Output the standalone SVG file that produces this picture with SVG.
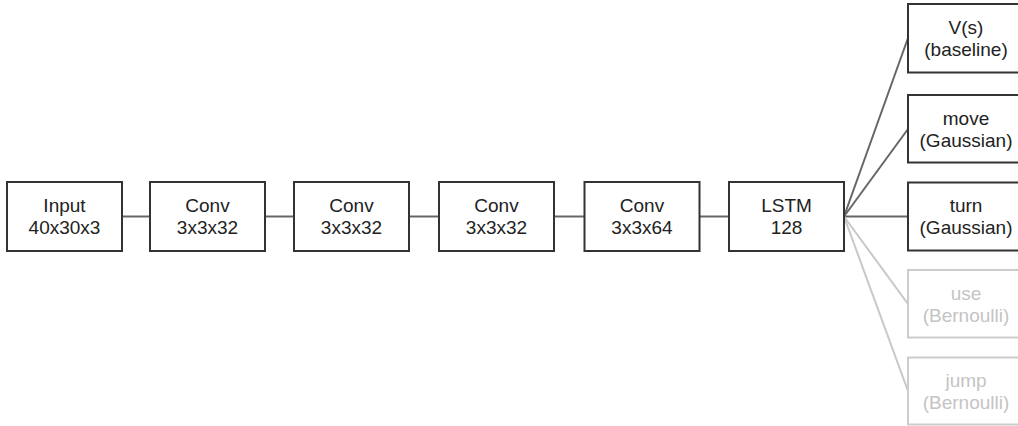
<svg xmlns="http://www.w3.org/2000/svg" width="1018" height="426" viewBox="0 0 1018 426">
<style>
.box{fill:#fff;stroke:#333;stroke-width:2}
.boxl{fill:#fff;stroke:#ccc;stroke-width:2}
.t{font-family:"Liberation Sans",Arial,sans-serif;font-size:19px;fill:#222;text-anchor:middle}
.tl{font-family:"Liberation Sans",Arial,sans-serif;font-size:19px;fill:#c4c4c4;text-anchor:middle}
.c{stroke:#666;stroke-width:2;fill:none}
.cl{stroke:#c8c8c8;stroke-width:2;fill:none}
</style>
<rect width="1018" height="426" fill="#fff"/>
<g id="connectors">
<line class="c" x1="122" y1="216.5" x2="150" y2="216.5"/>
<line class="c" x1="265" y1="216.5" x2="294" y2="216.5"/>
<line class="c" x1="409" y1="216.5" x2="439" y2="216.5"/>
<line class="c" x1="554" y1="216.5" x2="584.5" y2="216.5"/>
<line class="c" x1="699.5" y1="216.5" x2="729" y2="216.5"/>
<line class="c" x1="844" y1="216.5" x2="908" y2="38"/>
<line class="c" x1="844" y1="216.5" x2="908" y2="129"/>
<line class="c" x1="844" y1="216.5" x2="908" y2="216.5"/>
<line class="cl" x1="844" y1="216.5" x2="908" y2="304"/>
<line class="cl" x1="844" y1="216.5" x2="908" y2="391"/>
</g>
<g id="input"><rect class="box" x="7" y="182" width="115" height="69"/><text class="t" x="64.5" y="212">Input</text><text class="t" x="64.5" y="234">40x30x3</text></g>
<g id="conv1"><rect class="box" x="150" y="182" width="115" height="69"/><text class="t" x="207.5" y="212">Conv</text><text class="t" x="207.5" y="234">3x3x32</text></g>
<g id="conv2"><rect class="box" x="294" y="182" width="115" height="69"/><text class="t" x="351.5" y="212">Conv</text><text class="t" x="351.5" y="234">3x3x32</text></g>
<g id="conv3"><rect class="box" x="439" y="182" width="115" height="69"/><text class="t" x="496.5" y="212">Conv</text><text class="t" x="496.5" y="234">3x3x32</text></g>
<g id="conv4"><rect class="box" x="584.5" y="182" width="115" height="69"/><text class="t" x="642" y="212">Conv</text><text class="t" x="642" y="234">3x3x64</text></g>
<g id="lstm"><rect class="box" x="729" y="182" width="115" height="69"/><text class="t" x="786.5" y="212">LSTM</text><text class="t" x="786.5" y="234">128</text></g>
<g id="vs"><rect class="box" x="908" y="4" width="116" height="68.5"/><text class="t" x="966" y="34">V(s)</text><text class="t" x="966" y="56">(baseline)</text></g>
<g id="move"><rect class="box" x="908" y="95" width="116" height="67.5"/><text class="t" x="966" y="124.5">move</text><text class="t" x="966" y="146.5">(Gaussian)</text></g>
<g id="turn"><rect class="box" x="908" y="182.5" width="116" height="68"/><text class="t" x="966" y="212">turn</text><text class="t" x="966" y="234">(Gaussian)</text></g>
<g id="use"><rect class="boxl" x="908" y="270" width="116" height="67.5"/><text class="tl" x="966" y="299.5">use</text><text class="tl" x="966" y="321.5">(Bernoulli)</text></g>
<g id="jump"><rect class="boxl" x="908" y="357.5" width="116" height="67"/><text class="tl" x="966" y="386.5">jump</text><text class="tl" x="966" y="408.5">(Bernoulli)</text></g>
</svg>
